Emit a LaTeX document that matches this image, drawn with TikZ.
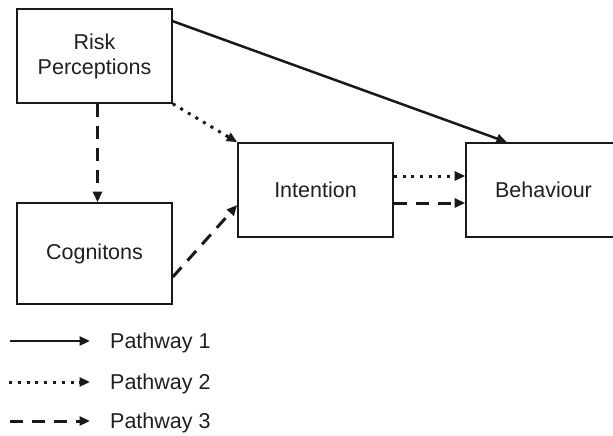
\documentclass[tikz,border=0pt]{standalone}
\usepackage{fontspec}
\setmainfont{Liberation Sans}
\usetikzlibrary{arrows.meta}
\begin{document}
\begin{tikzpicture}[x=1pt,y=-1pt,
  box/.style={draw=black!90, line width=1.6pt, minimum width=155pt, inner sep=0pt, align=center, font=\fontsize{21.5}{25}\selectfont, text=black!88},
  lab/.style={anchor=west, inner sep=0pt, font=\fontsize{21.5}{25}\selectfont, text=black!88},
  tip/.style={-{Triangle[length=10.5pt,width=9pt]}},
  solidpath/.style={tip, line width=2.5pt, black!90},
  dotpath/.style={tip, line width=3pt, black!90, dash pattern=on 3pt off 5.8pt},
  dashpath/.style={tip, line width=3pt, black!90, dash pattern=on 13pt off 9pt}
]
\useasboundingbox (0,0) rectangle (613,436);
\node[box, minimum height=94pt] (risk) at (94.5,56) {Risk\\Perceptions};
\node[box, minimum height=101pt] (cog) at (94.5,253.5) {Cognitons};
\node[box, minimum height=94pt] (intn) at (315.5,190) {Intention};
\node[box, minimum height=94pt] (beh) at (543.5,190) {Behaviour};

\draw[solidpath] ([yshift=-13pt]risk.north east) -- ([xshift=-36.5pt]beh.north);
\draw[dotpath] (risk.south east) -- (intn.north west);
\draw[dashpath] ([xshift=3pt]risk.south) -- ([xshift=3pt]cog.north);
\draw[dashpath] ([yshift=-23.5pt]cog.east) -- ([yshift=-15pt]intn.west);
\draw[dotpath] ([yshift=14pt]intn.east) -- ([yshift=14pt]beh.west);
\draw[dashpath] ([yshift=-13pt]intn.east) -- ([yshift=-13pt]beh.west);

\coordinate (l1a) at (10,341); \coordinate (l1b) at (90,341);
\coordinate (l2a) at (9,382); \coordinate (l2b) at (90,382);
\coordinate (l3a) at (10,421); \coordinate (l3b) at (90,421);
\draw[solidpath] (l1a) -- (l1b);
\draw[dotpath] (l2a) -- (l2b);
\draw[dashpath] (l3a) -- (l3b);
\node[lab] (p1) at (110,343) {Pathway 1};
\node[lab] (p2) at (110,384) {Pathway 2};
\node[lab] (p3) at (110,423) {Pathway 3};
\end{tikzpicture}
\end{document}
